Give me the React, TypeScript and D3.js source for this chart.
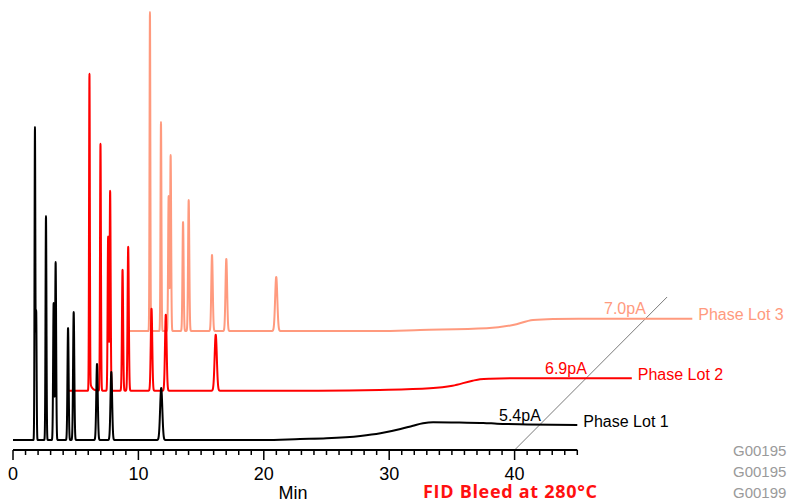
import React from "react";
import * as d3 from "d3";

// ---------- data ----------
const peakTimes = [1.75, 1.85, 2.63, 3.24, 3.4, 4.39, 4.84, 6.7, 7.84, 11.82];
const lot1Heights = [312, 128, 224, 137, 178, 112, 128, 76, 68, 52];
const lot2Heights = [317, 0, 247, 154, 200, 121, 144, 82, 76, 56];
const lot3Heights = [319, 0, 209, 135, 176, 109, 131, 76, 72, 54];
const lot1Tails = [0, 0, 0, 0, 0, 0, 0, 0, 0, 0];
const lot2Tails = [11, 0, 0, 0, 0, 0, 0, 0, 0, 0];
const lot3Tails = [0, 0, 0, 0, 0, 0, 0, 0, 0, 0];

const lot1DriftTimes = [13, 20, 22.9, 25, 27.7, 29.3, 30.9, 31.9, 32.7, 33.5, 35.6, 37.5, 38.6, 41, 45];
const lot1DriftValues = [0, 0, 1, 1.7, 4, 6.7, 11, 14.3, 16.7, 17.7, 17.4, 17.1, 16.3, 15.6, 15];
const lot2DriftTimes = [13, 20, 24.9, 28.9, 30.7, 32.3, 32.9, 33.7, 35.5, 45];
const lot2DriftValues = [0, 0, 0.7, 2.4, 5, 10, 11.4, 12, 12.4, 12.5];
const lot3DriftTimes = [13, 20, 23.3, 28.6, 30.7, 32.3, 33.9, 36, 45];
const lot3DriftValues = [0, 0, 1, 2.7, 6, 11, 12, 12.2, 12.2];

const seriesNames = ["Phase Lot 1", "Phase Lot 2", "Phase Lot 3"];
const bleedLabels = ["5.4pA", "6.9pA", "7.0pA"];
const xTickLabels = [0, 10, 20, 30, 40];
const xMinorTicks = d3.range(0, 46, 1);
const sampleIds = ["G00195", "G00195", "G00199"];
const axisTitle = "Min";
const footnote = "FID Bleed at 280°C";

// ---------- layout ----------
const W = 789;
const H = 502;
const colors = ["#000000", "#ff0000", "#ff9a7e"];
const offsets: [number, number][] = [
  [0, 0],
  [54.5, -49.3],
  [115, -109],
];
const bleedLabelX = [499, 545, 604];

const x = d3.scaleLinear().domain([0, 45]).range([13, 577.3]);
const y = d3.scaleLinear().domain([0, 440]).range([440, 0]);
const axisY = 450;

function buildTrace(heights: number[], tails: number[], dT: number[], dV: number[]) {
  const pts: [number, number][] = [];
  const tPeakEnd = 13;
  const n = Math.round(tPeakEnd / 0.005);
  for (let k = 0; k <= n; k++) {
    const t = k * 0.005;
    let v = 0;
    peakTimes.forEach((tp, i) => {
      const h = heights[i];
      const s = 0.022 + 0.0055 * tp;
      const d = t - tp;
      if (h) v += h * Math.exp((-0.5 * d * d) / (s * s));
      if (tails[i] && d > 0) v += tails[i] * Math.exp(-d / 0.16) * (1 - Math.exp(-d / 0.03));
    });
    pts.push([t, v]);
  }
  dT.forEach((t, i) => {
    if (t > tPeakEnd) pts.push([t, dV[i]]);
  });
  return pts;
}

const traces = [
  buildTrace(lot1Heights, lot1Tails, lot1DriftTimes, lot1DriftValues),
  buildTrace(lot2Heights, lot2Tails, lot2DriftTimes, lot2DriftValues),
  buildTrace(lot3Heights, lot3Tails, lot3DriftTimes, lot3DriftValues),
];

const line = d3
  .line<[number, number]>()
  .x((d) => x(d[0]))
  .y((d) => y(d[1]))
  .curve(d3.curveMonotoneX);

const font = "'Liberation Sans', Arial, Helvetica, sans-serif";

export default function App() {
  const order = [2, 1, 0];
  return (
    <div style={{ position: "absolute", left: 0, top: 0 }}>
      <svg width={W} height={H} style={{ display: "block", overflow: "hidden" }}>
        <rect width={W} height={H} fill="#ffffff" />
        {/* diagonal 40-min guide */}
        <line x1={x(40)} y1={axisY} x2={x(40) + 152.5} y2={297} stroke="#7a7a7a" strokeWidth={1} />
        {order.map((i) => {
          const pts = traces[i];
          const last = pts[pts.length - 1];
          const [dx, dy] = offsets[i];
          const ex = x(last[0]) + dx;
          const ey = y(last[1]) + dy;
          return (
            <g key={i}>
              <path
                d={line(pts) || ""}
                transform={`translate(${dx},${dy})`}
                fill="none"
                stroke={colors[i]}
                strokeWidth={2}
                strokeLinejoin="round"
              />
              <text x={ex + 6} y={ey + 1.5} fill={colors[i]} fontFamily={font} fontSize={16}>
                {seriesNames[i]}
              </text>
              <text x={bleedLabelX[i]} y={ey - 4.5} fill={colors[i]} fontFamily={font} fontSize={16}>
                {bleedLabels[i]}
              </text>
            </g>
          );
        })}
        {/* axis */}
        <line x1={x(0)} x2={x(45)} y1={axisY} y2={axisY} stroke="#000" strokeWidth={2} />
        {xMinorTicks.map((t) => (
          <line
            key={t}
            x1={x(t)}
            x2={x(t)}
            y1={axisY}
            y2={axisY + (t % 10 === 0 ? 10 : 5)}
            stroke="#000"
            strokeWidth={1.5}
          />
        ))}
        {xTickLabels.map((t) => (
          <text key={t} x={x(t)} y={480} textAnchor="middle" fontFamily={font} fontSize={18} fill="#000">
            {t}
          </text>
        ))}
        <text x={293} y={499} textAnchor="middle" fontFamily={font} fontSize={18} fill="#000">
          {axisTitle}
        </text>
        <text
          x={423}
          y={498}
          fontFamily="'Open Sans', 'Noto Sans', sans-serif"
          fontWeight="bold"
          fontSize={18}
          letterSpacing={0.7}
          fill="#ff1010"
        >
          {footnote}
        </text>
        {sampleIds.map((s, i) => (
          <text key={i} x={733} y={[456, 476.5, 498][i]} fontFamily={font} fontSize={15} fill="#9a9a9a">
            {s}
          </text>
        ))}
      </svg>
    </div>
  );
}
